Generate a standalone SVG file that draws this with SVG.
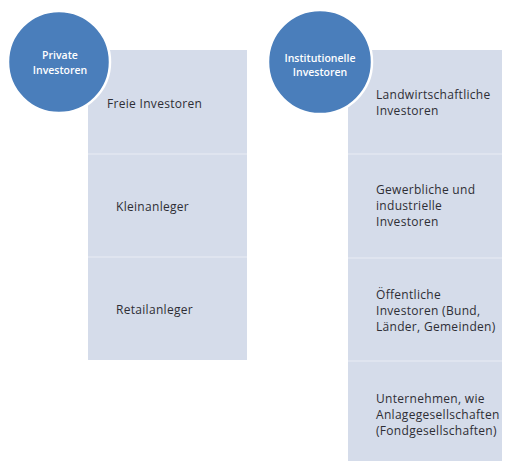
<svg xmlns="http://www.w3.org/2000/svg" width="505" height="461" viewBox="0 0 505 461">
<style>
.col{fill:#d5dcea}
.sep{stroke:#e2e7f0;stroke-width:1.5}
.circ{fill:#4a7ebb;stroke:#ffffff;stroke-width:2.5}
.ct{font-family:"Open Sans","Liberation Sans",Arial,sans-serif;font-size:10.5px;font-weight:600;fill:#ffffff;text-anchor:middle}
.t{font-family:"Open Sans","Liberation Sans",Arial,sans-serif;font-size:12px;letter-spacing:0.3px;fill:#2e2e35}
</style>
<rect width="505" height="461" fill="#ffffff"/>
<g id="private-column">
<rect class="col" x="88" y="50" width="159" height="310"/>
<line class="sep" x1="88" y1="154" x2="247" y2="154"/>
<line class="sep" x1="88" y1="257" x2="247" y2="257"/>
</g>
<g id="institutional-column">
<rect class="col" x="348" y="50" width="154" height="411"/>
<line class="sep" x1="348" y1="154" x2="502" y2="154"/>
<line class="sep" x1="348" y1="258" x2="502" y2="258"/>
<line class="sep" x1="348" y1="361" x2="502" y2="361"/>
</g>
<g id="private-investoren">
<circle class="circ" cx="59" cy="62" r="51"/>
<text class="ct" x="60" y="59">Private</text>
<text class="ct" x="60" y="74">Investoren</text>
</g>
<g id="institutionelle-investoren">
<circle class="circ" cx="320" cy="62" r="52"/>
<text class="ct" x="320" y="62">Institutionelle</text>
<text class="ct" x="320" y="76">Investoren</text>
</g>
<g id="freie-investoren"><text class="t" x="107" y="108">Freie Investoren</text></g>
<g id="kleinanleger"><text class="t" x="116" y="211">Kleinanleger</text></g>
<g id="retailanleger"><text class="t" x="116" y="314">Retailanleger</text></g>
<g id="landwirtschaftliche"><text class="t" x="376" y="99">Landwirtschaftliche</text><text class="t" x="376" y="115">Investoren</text></g>
<g id="gewerbliche"><text class="t" x="376" y="194">Gewerbliche und</text><text class="t" x="376" y="210">industrielle</text><text class="t" x="376" y="226">Investoren</text></g>
<g id="oeffentliche"><text class="t" x="376" y="299">Öffentliche</text><text class="t" x="376" y="315">Investoren (Bund,</text><text class="t" x="376" y="331">Länder, Gemeinden)</text></g>
<g id="unternehmen"><text class="t" x="376" y="403">Unternehmen, wie</text><text class="t" x="376" y="419">Anlagegesellschaften</text><text class="t" x="376" y="435">(Fondgesellschaften)</text></g>
<g id="connectors"></g>
</svg>
